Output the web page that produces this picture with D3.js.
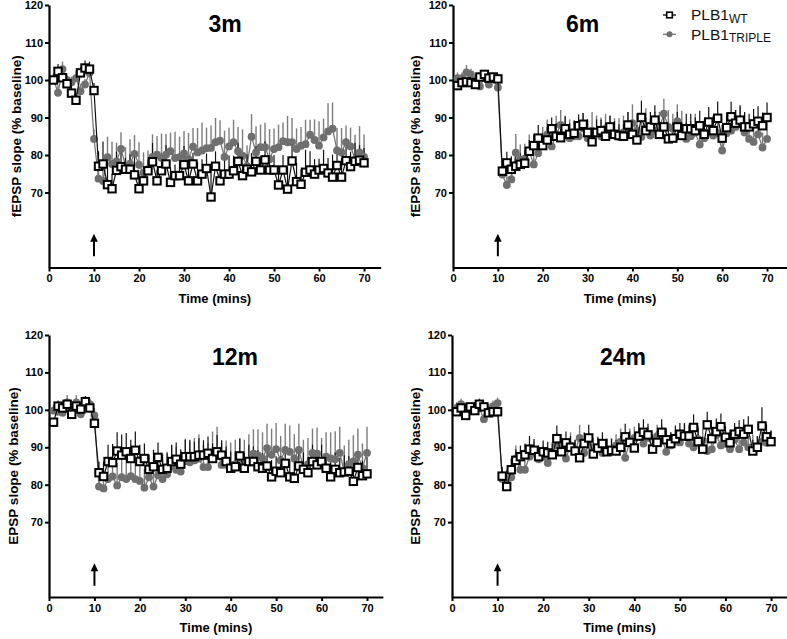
<!DOCTYPE html>
<html><head><meta charset="utf-8">
<script src="https://cdn.jsdelivr.net/npm/d3@7"></script>
<style>body{margin:0;background:#fff} svg text{font-family:"Liberation Sans",Arial,sans-serif}</style>
</head><body><svg id="c" width="787" height="639"></svg>
<script>
// ---------------- DATA ----------------
const minutes = [1,2,3,4,5,6,7,8,9,10,11,12,13,14,15,16,17,18,19,20,21,22,23,24,25,26,27,28,29,30,31,32,33,34,35,36,37,38,39,40,41,42,43,44,45,46,47,48,49,50,51,52,53,54,55,56,57,58,59,60,61,62,63,64,65,66,67,68,69,70];
const xTicks = [0,10,20,30,40,50,60,70];
const yTicks = [70,80,90,100,110,120];
const panelTitles = ["3m","6m","12m","24m"];
const yTitles = ["fEPSP slope (% baseline)","fEPSP slope (% baseline)","EPSP slope (% baseline)","EPSP slope (% baseline)"];
const xTitle = "Time (mins)";
const legendMain = ["PLB1","PLB1"];
const legendSub = ["WT","TRIPLE"];
const stimTime = 10;
const arrowFrom = 53, arrowTo = 59;

const wt3m = [100,102.3,100.6,99,96.5,94.6,101.9,103.2,102.9,97.2,
77,77.6,72.1,71,75.9,76.9,76.2,76.2,74.7,71,
73.1,75.8,78.2,73.1,75.8,77.6,72.7,74.5,74.5,77.4,
73.1,77.6,73.1,74.9,76.4,68.8,77,73.1,74.9,74.9,
75.8,78.3,74.5,76.2,75.5,78.3,76,78.7,76,76,
72,76,70.9,78.4,72.9,72.2,75.4,76,74.9,76,
76.4,75.2,74.1,77.2,74.1,78.5,76.9,78.3,78.6,77.9];
const tr3m = [100.2,96.6,102.9,100,99.4,100.5,97,98.8,101.9,84.3,
73.7,73.1,79.4,77.6,78.3,81.6,77.1,77.7,80.3,77.4,
75.2,76.2,79.5,80.1,79.2,80.1,81,79.2,79.4,80.4,
78.9,82.2,80.7,81.2,81.8,81.9,83.4,83.8,79.5,82.3,
83.4,81,79.8,77.1,84.9,80.7,82.1,82.1,78.9,81.6,
82.1,83.7,83.4,83.4,81.6,82.5,82.9,85.4,84,82.5,
84.7,86.3,87,81.2,80.7,83.4,82.3,78.9,80.7,79.5];
const wtErr3m = [1.5,2,2,1.5,2,2,1.5,2,2,2,
4,6,8,4,5,4,3,4,5,4,
4,3,5,3,4,5,4,3,4,5,
4,3,5,4,4,8,4,3,4,5,
4,5,3,4,5,4,3,5,4,4,
5,4,6,4,5,4,6,5,4,3,
5,4,6,4,5,6,4,5,4,4];
const trErr3m = [1.5,2,2,1.5,1.5,2,2,1.5,2,2.5,
4,5,5.5,6,5,4.5,5,6.5,5,6,
5.5,5,6,5,6.5,5.5,5,7,5.5,6,
7,5,6.5,7.5,5.5,6,6.5,5.5,7,5,
6,6.5,7,5.5,6,7,6,6.5,8,5.5,
6,5,7,6.5,5.5,5,6.5,4,5.5,6.5,
5,7.5,7,6,6.5,4.5,5,6.5,7,6];

const wt6m = [98.5,99.3,99.5,99.3,98.8,100.8,101.5,100.5,100.8,100.3,
75.7,77.9,76.2,77,77.5,77.8,81,82.5,84.5,82.5,
84,87,85,84.6,87,85.5,85.8,87.8,88.2,86,
83.5,86,86.5,85,87.5,85.5,85.2,85,88,85.5,
84,90,86.5,87.5,89.3,85.5,87.5,84.3,84.5,87.5,
85.2,87,87,86.5,87.8,85.5,88.8,86.5,89.8,84.5,
87.3,90.2,88.5,89.3,87.5,87.5,88.3,89,87.8,90];
const tr6m = [100.5,100.5,102,101.5,100,98.3,100.5,98.8,100.5,98,
74.8,72,73.5,80.6,78.8,79,81,77.5,80.5,83,
85.5,82.3,85.5,88,85.5,84.5,85,85,87.2,84.5,
86.5,86,85,87,86,85.8,84.8,86,86.5,88.5,
86.5,84.8,87.5,85.2,86.5,87,91,87.5,87,89,
86.8,84.3,85,86,82.8,84.5,86,85.2,85.8,81.2,
85.8,86.5,87.5,89,86,84.3,83.5,85.5,82,84.3];
const wtErr6m = [1,1,1,1.5,1,1,1,1,1,1,
3,3,3.5,3,3,3.5,3,3,3.5,3,
3.5,3,3.5,3,3.5,3,3.5,3,3,3.5,
3,3.5,3,3.5,3,3.5,3,3,3.5,3,
4,4.5,3.5,4,4,3.5,4,3.5,4,4,
3.5,4,4,3.5,4,3.5,4,4,4.5,3.5,
4,4,3.5,4,4,3.5,4,4,3.5,4];
const trErr6m = [1.5,1.5,2,1.5,1.5,2,1.5,1.5,1.5,2,
3,3.5,4,5,4,4,4.5,5,5,4.5,
4,5,5,4,4.5,5,4,4.5,4,4.5,
5,4.5,5,4,4.5,4,5,4.5,5,5,
4.5,4.5,5,4.5,5,4.5,4,4.5,4,4.5,
5,4.5,4,5,4.5,5,4,4.5,5,4.5,
4.5,4,4.5,4,5,4.5,4,4.5,4,4.5];

const wt12m = [96.7,101,100.5,101.5,98.8,101,100.2,102.2,100.5,96.4,
83.2,82.2,86.2,85.9,89,87.9,88.8,87,89.2,86.2,
87,84.1,84.8,87.3,84.1,84.4,86.2,86.8,85.5,87.5,
87.5,87.5,87.9,87.9,88.4,87,88.8,87.9,86.2,84.4,
84.8,87.7,84.4,86.2,86.2,84.8,84.4,85,82.1,83.6,
83.2,85.7,82.1,81.7,85,84.1,83.2,86.2,85.3,86.2,
84.4,82.1,84.1,83.2,83.4,83.6,80.9,84.6,82.4,82.9];
const tr12m = [99.8,99.5,99.2,102,100,102,98.8,101.5,101.5,98.5,
79.5,79,81.5,82.2,79.8,82,81.5,82.3,81.5,81,
79.2,82,79.5,82.5,81.5,82.8,85,84,83.5,86.3,
86,86.5,87,84.7,84.7,88.2,89,85.3,85.3,85.3,
85.5,85.5,85.5,86.5,88.3,87.8,87,89.8,88,89.5,
86.5,89.3,88.8,87,89.3,84.5,85.5,88.5,88.3,85.5,
87.5,87,86.8,88.5,83.5,85.5,86.2,88,84.5,88.5];
const wtErr12m = [1,1.5,1.5,1.5,1.5,1.5,1.5,1.5,1.5,1.5,
3,4,4.5,5,5,5.5,5,5,5,4.5,
4,4,4.5,4,4,4,4.5,4.5,4,4.5,
4.5,4,4.5,4,4.5,4,4.5,4,4,4.5,
4,4.5,4,4.5,4,4.5,4,4,4.5,4,
4.5,4,4.5,4.5,4,4.5,4,4.5,4,4.5,
4,4,4.5,4,4.5,4,4.5,4,4,4.5];
const trErr12m = [1.5,2,2,2,1.5,2,2,1.5,1.5,2,
3,4,5,5.5,6,5,5.5,6,5,5.5,
5,6,5.5,5,5.5,6,5.5,6,5.5,6,
5.5,6,6.5,6,6.5,6,6.5,6,6.5,6,
6.5,7,6.5,7,6.5,7,7,6.5,7,7,
6.5,7,7,6.5,7,7.5,7,6.5,7,7,
6.5,7,7.5,7,7,6.5,7,7,6.5,7];

const wt24m = [99.5,100.5,98.5,100.8,99.8,101.5,100.8,99.2,99.5,99.5,
82.3,79.5,84,86.5,87.5,88,89.5,89.2,87.5,88.8,
88.5,88,92.3,88.8,91.2,90,89,87.2,91,92.5,
88.2,89.8,91,88.8,89.2,89,90,92.8,91.3,89.8,
93,94,93.3,89.5,91.3,94,92,91,92.3,93.5,
93,93,95.3,91.5,89.5,96,92.3,94.2,95.5,92.7,
91.2,93.5,94.2,93.5,94.8,89,90,95.7,92.8,91.5];
const tr24m = [100.5,101.5,100,100.5,100.5,100.5,97.5,100,101,101.8,
81.5,81,82,87,84,84,87.5,88.5,86.8,87.5,
85.8,88,90.5,90,87,90.5,89,92.5,88.5,90.5,
89,89.5,88.5,88.8,89,90.5,91.5,87.2,91.5,92.5,
92.8,91,92.5,90,93,92.5,88.8,90.5,91.5,91.3,
93.3,91,90,92.2,91.8,89,89.5,93.3,90.5,91,
89.5,92,89.5,91.3,90,90,90,91.5,91.2,91.5];
const wtErr24m = [1,1,1.5,1,1.5,1.5,1,1,1,1,
2.5,3,3,3,3,3,3.5,3,3,3,
3,3,3.5,3.5,3,3,3,3.5,3,3.5,
3,3,3,3.5,3,3,3,3.5,3,3.5,
3.5,3.5,3,3.5,3,3.5,3,3,3.5,3,
3.5,3,3.5,3.5,3,3.5,3,3.5,3.5,3,
3.5,3,3,4,3.5,3,3,5,3.5,3];
const trErr24m = [1.5,1.5,1.5,1.5,1.5,1.5,1.5,1.5,1.5,1.5,
3,3,3,3.5,3.5,3.5,3.5,3,3,3,
3.5,3.5,3.5,3.5,3,3.5,3,3.5,3,3.5,
3.5,3,3,3.5,3.5,3,3.5,3,3.5,3,
3.5,3,3,3.5,3,3.5,3,3.5,3,3.5,
3,3.5,3,3.5,3,3.5,3,3.5,3,3.5,
3,3.5,3,3.5,3,3.5,3,3.5,3,3];

const wtSeries = [wt3m, wt6m, wt12m, wt24m];
const trSeries = [tr3m, tr6m, tr12m, tr24m];
const wtErrs = [wtErr3m, wtErr6m, wtErr12m, wtErr24m];
const trErrs = [trErr3m, trErr6m, trErr12m, trErr24m];

// ---------------- LAYOUT ----------------
const layout = [
  {x0:49,  x1:380.7, xMax:73.7,  yTop:5,   yBot:267.5, tx:225,   ty:31.5, ylx:21},
  {x0:453, x1:787,   xMax:74.45, yTop:5,   yBot:267.5, tx:582.5, ty:31.5, ylx:420},
  {x0:49,  x1:382.9, xMax:73.5,  yTop:335, yBot:597,   tx:235,   ty:365,  ylx:18},
  {x0:452, x1:787,   xMax:73.5,  yTop:335, yBot:597,   tx:623,   ty:365,  ylx:420}
];
const GRAY = "#6f6f6f";
const GRAY_ERR = "#7c7c7c";

const svg = d3.select("#c");

layout.forEach((L, i) => {
  const x = d3.scaleLinear().domain([0, L.xMax]).range([L.x0, L.x1]);
  const y = d3.scaleLinear().domain([50, 120]).range([L.yBot, L.yTop]);
  const g = svg.append("g");

  const ya = g.append("g").attr("transform", `translate(${L.x0},0)`)
    .call(d3.axisLeft(y).tickValues(yTicks).tickSize(4).tickPadding(2).tickSizeOuter(0));
  const xa = g.append("g").attr("transform", `translate(0,${L.yBot})`)
    .call(d3.axisBottom(x).tickValues(xTicks).tickSize(4).tickPadding(3).tickSizeOuter(0));
  [ya, xa].forEach(a => {
    a.select(".domain").attr("stroke", "#000").attr("stroke-width", 2.2);
    a.selectAll(".tick line").attr("stroke", "#000").attr("stroke-width", 2);
    a.selectAll(".tick text").attr("fill", "#000").attr("font-size", 11).attr("font-weight", "bold")
      .attr("font-family", '"Liberation Sans",Arial,sans-serif');
  });

  g.append("text").attr("x", L.tx).attr("y", L.ty).attr("text-anchor", "middle")
    .attr("font-size", 23).attr("font-weight", "bold").text(panelTitles[i]);
  g.append("text").attr("x", (L.x0 + L.x1) / 2).attr("y", L.yBot + 35).attr("text-anchor", "middle")
    .attr("font-size", 13).attr("font-weight", "bold").text(xTitle);
  g.append("text").attr("transform", `translate(${L.ylx},${(L.yTop + L.yBot) / 2}) rotate(-90)`)
    .attr("text-anchor", "middle").attr("font-size", 13.5).attr("font-weight", "bold").text(yTitles[i]);

  const wt = wtSeries[i], tr = trSeries[i], we = wtErrs[i], te = trErrs[i];
  const line = d3.line().x((d, k) => x(minutes[k])).y(d => y(d));

  g.append("g").selectAll("line").data(tr).join("line")
    .attr("x1", (d, k) => x(minutes[k])).attr("x2", (d, k) => x(minutes[k]))
    .attr("y1", d => y(d)).attr("y2", (d, k) => y(d + te[k]))
    .attr("stroke", GRAY_ERR).attr("stroke-width", 1.4);
  g.append("path").attr("d", line(tr)).attr("fill", "none").attr("stroke", GRAY).attr("stroke-width", 1.2);

  g.append("g").selectAll("line").data(wt).join("line")
    .attr("x1", (d, k) => x(minutes[k])).attr("x2", (d, k) => x(minutes[k]))
    .attr("y1", d => y(d)).attr("y2", (d, k) => y(d + we[k]))
    .attr("stroke", "#111").attr("stroke-width", 1.2);

  g.append("g").selectAll("circle").data(tr).join("circle")
    .attr("cx", (d, k) => x(minutes[k])).attr("cy", d => y(d)).attr("r", 3.9)
    .attr("fill", GRAY);

  g.append("path").attr("d", line(wt)).attr("fill", "none").attr("stroke", "#111").attr("stroke-width", 1.2);
  g.append("g").selectAll("rect").data(wt).join("rect")
    .attr("x", (d, k) => x(minutes[k]) - 3.7).attr("y", d => y(d) - 3.7)
    .attr("width", 7.4).attr("height", 7.4)
    .attr("fill", "#fff").attr("stroke", "#000").attr("stroke-width", 2);

  const ax = x(stimTime), yb = y(arrowFrom), yt = y(arrowTo);
  g.append("line").attr("x1", ax).attr("x2", ax).attr("y1", yb).attr("y2", yt + 6)
    .attr("stroke", "#000").attr("stroke-width", 2);
  g.append("path").attr("d", `M${ax},${yt} L${ax - 3.8},${yt + 8} L${ax + 3.8},${yt + 8} Z`).attr("fill", "#000");
});

// ---------------- LEGEND ----------------
const lg = svg.append("g");
const legendRows = [{y: 15, base: 20.3}, {y: 34.3, base: 39.5}];
legendRows.forEach((r, j) => {
  const col = j === 0 ? "#000" : GRAY;
  lg.append("line").attr("x1", 663).attr("x2", 676).attr("y1", r.y).attr("y2", r.y)
    .attr("stroke", col).attr("stroke-width", 1.3);
  if (j === 0) {
    lg.append("rect").attr("x", 666.7).attr("y", r.y - 2.8).attr("width", 5.6).attr("height", 5.6)
      .attr("fill", "#fff").attr("stroke", "#000").attr("stroke-width", 1.6);
  } else {
    lg.append("circle").attr("cx", 669.5).attr("cy", r.y).attr("r", 3).attr("fill", GRAY);
  }
  const t = lg.append("text").attr("x", 691).attr("y", r.base).attr("font-size", 15.5).attr("fill", "#111");
  t.append("tspan").text(legendMain[j]);
  t.append("tspan").attr("font-size", 12).attr("dy", 2.5).text(legendSub[j]);
});
</script>
</body></html>
